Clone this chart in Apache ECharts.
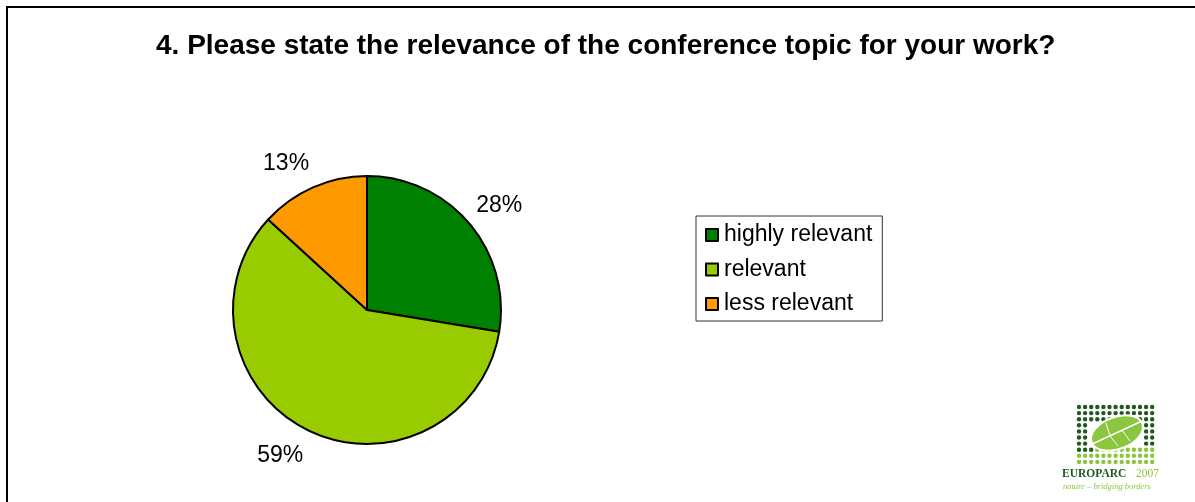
<!DOCTYPE html>
<html>
<head>
<meta charset="utf-8">
<script src="https://cdn.jsdelivr.net/npm/echarts@6/dist/echarts.min.js"></script>
<style>
html,body{margin:0;padding:0;background:#fff;}
#chart{width:1195px;height:502px;}
</style>
</head>
<body>
<div id="chart"></div>
<script>
// ---- data ----
const titleText = '4. Please state the relevance of the conference topic for your work?';
const categories = ['highly relevant', 'relevant', 'less relevant'];
const values = [27.6, 59.2, 13.2];
const colors = ['#008000', '#99CC00', '#FF9900'];

// label nudges (style)
const labelNudge = [[-2.5, -14], [2.5, 20], [3.5, -18]];

const FONT = "'Liberation Sans', Arial, Helvetica, sans-serif";

// logo decoration (dots grid)
function logoGraphics() {
  const els = [];
  const x0 = 1079, y0 = 407, step = 6.1, cols = 13, rows = 10;
  for (let r = 0; r < rows; r++) {
    for (let c = 0; c < cols; c++) {
      let show = false, col = '#1e5a1e';
      if (r < 3) show = true;
      else if (r >= 8) { show = true; col = '#8cc63f'; }
      else if (c < 2 || c >= cols - 2) show = true;
      if (r === 7) { show = true; col = (c < 3 ? '#1e5a1e' : '#8cc63f'); }
      if (r >= 3 && r < 7 && c >= 5 && c <= cols - 3) show = false;
      if (show) els.push({type: 'circle', shape: {cx: x0 + c * step, cy: y0 + r * step, r: 2.2}, style: {fill: col}, silent: true, z: 10});
    }
  }
  // leaf
  els.push({type: 'ellipse', shape: {cx: 1117, cy: 433, rx: 27, ry: 16}, rotation: 0.35, originX: 1117, originY: 433,
    style: {fill: '#8cc63f', stroke: '#ffffff', lineWidth: 2}, z: 11, silent: true});
  els.push({type: 'line', shape: {x1: 1088, y1: 446, x2: 1142, y2: 421}, style: {stroke: '#ffffff', lineWidth: 1.5}, z: 12, silent: true});
  els.push({type: 'line', shape: {x1: 1110, y1: 436, x2: 1118, y2: 446}, style: {stroke: '#ffffff', lineWidth: 1}, z: 12, silent: true});
  els.push({type: 'line', shape: {x1: 1122, y1: 430, x2: 1130, y2: 441}, style: {stroke: '#ffffff', lineWidth: 1}, z: 12, silent: true});
  els.push({type: 'line', shape: {x1: 1110, y1: 436, x2: 1106, y2: 423}, style: {stroke: '#ffffff', lineWidth: 1}, z: 12, silent: true});
  els.push({type: 'text', left: 1062, top: 468, style: {text: 'EUROPARC', font: "bold 11.5px 'Liberation Serif', 'DejaVu Serif', serif", fill: '#1e5a1e'}, z: 12, silent: true});
  els.push({type: 'text', left: 1136, top: 468, style: {text: '2007', font: "11.5px 'Liberation Serif', 'DejaVu Serif', serif", fill: '#8cc63f'}, z: 12, silent: true});
  els.push({type: 'text', left: 1063, top: 482, style: {text: 'nature – bridging borders', font: "italic 8.5px 'Liberation Serif', 'DejaVu Serif', serif", fill: '#8cc63f'}, z: 12, silent: true});
  return els;
}

const chart = echarts.init(document.getElementById('chart'), null, {renderer: 'canvas'});
chart.setOption({
  animation: false,
  backgroundColor: '#ffffff',
  title: {
    text: titleText,
    left: 151,
    top: 27,
    textStyle: {fontFamily: FONT, fontSize: 28, fontWeight: 'bold', color: '#000'}
  },
  legend: {
    orient: 'vertical',
    left: 696,
    top: 216,
    padding: [7, 10, 5, 9],
    itemGap: 10.5,
    itemWidth: 12,
    itemHeight: 12,
    icon: 'rect',
    backgroundColor: '#fff',
    borderColor: '#333',
    borderWidth: 1,
    borderRadius: 0,
    textStyle: {fontFamily: FONT, fontSize: 23, color: '#000', lineHeight: 24, padding: [0, 0, 0, 1]},
    itemStyle: {borderColor: '#000', borderWidth: 2},
    data: categories,
    selectedMode: false
  },
  graphic: [
    {type: 'rect', shape: {x: 7, y: 7, width: 1250, height: 560}, style: {fill: 'none', stroke: '#000', lineWidth: 2}, silent: true, z: 0}
  ].concat(logoGraphics()),
  series: [{
    type: 'pie',
    center: [367, 310],
    radius: 134,
    startAngle: 90,
    clockwise: true,
    silent: true,
    itemStyle: {borderColor: '#000', borderWidth: 2},
    label: {
      show: true,
      position: 'outside',
      fontFamily: FONT,
      fontSize: 23,
      color: '#000',
      formatter: function (p) { return Math.round(p.percent) + '%'; }
    },
    labelLine: {show: false, length: 6, length2: 0},
    labelLayout: function (p) {
      const n = labelNudge[p.dataIndex] || [0, 0];
      return {dx: n[0], dy: n[1]};
    },
    data: categories.map((c, i) => ({name: c, value: values[i], itemStyle: {color: colors[i]}}))
  }]
});
</script>
</body>
</html>
